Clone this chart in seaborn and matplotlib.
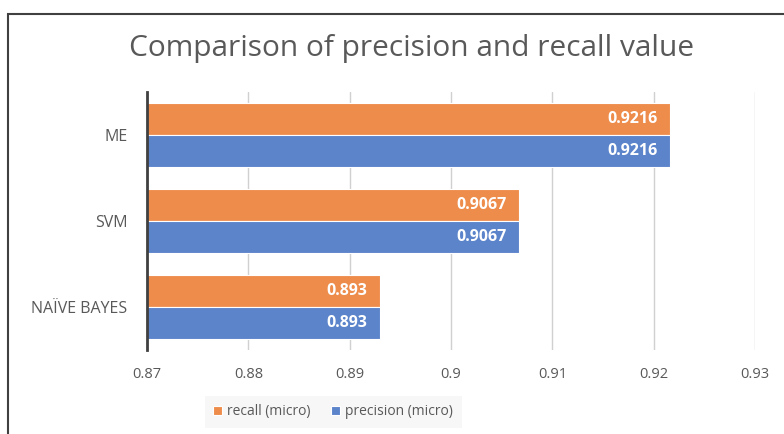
import matplotlib
matplotlib.use("Agg")
import matplotlib.pyplot as plt
import matplotlib.patches as mpatches
import seaborn as sns
import pandas as pd

# Scores per classifier
models = ["ME", "SVM", "NAÏVE BAYES"]
recall_micro = [0.9216, 0.9067, 0.893]
precision_micro = [0.9216, 0.9067, 0.893]
value_labels = ["0.9216", "0.9067", "0.893"]
series_names = ["recall (micro)", "precision (micro)"]
x_ticks = [0.87, 0.88, 0.89, 0.90, 0.91, 0.92, 0.93]
x_tick_labels = ["0.87", "0.88", "0.89", "0.9", "0.91", "0.92", "0.93"]

df = pd.DataFrame({
    "model": models * 2,
    "metric": [series_names[0]] * len(models) + [series_names[1]] * len(models),
    "score": recall_micro + precision_micro,
    "label": value_labels * 2,
})

sns.set_theme(style="white")
plt.rcParams["font.family"] = ["Open Sans", "DejaVu Sans"]

TEXT = "#595959"
GRID = "#D0D0D0"
palette = {series_names[0]: "#EE8C4C", series_names[1]: "#5B84CB"}

fig = plt.figure(figsize=(7.84, 4.34), dpi=100)
ax = fig.add_axes([0.1875, 0.1935, 0.7755, 0.5945])

sns.barplot(data=df, y="model", x="score", hue="metric", order=models,
            hue_order=series_names, palette=palette, orient="h",
            width=0.75, edgecolor="white", linewidth=0.8, saturation=1,
            ax=ax, legend=True, zorder=3)

ax.set_xlim(x_ticks[0], x_ticks[-1])
ax.set_xticks(x_ticks)
ax.set_xticklabels(x_tick_labels)
ax.set_xlabel("")
ax.set_ylabel("")
ax.xaxis.grid(True, color=GRID, linewidth=1.0, zorder=0)
ax.set_axisbelow(True)
for side in ["top", "right", "bottom"]:
    ax.spines[side].set_visible(False)
ax.spines["left"].set_color("#404040")
ax.spines["left"].set_linewidth(2.0)
ax.spines["left"].set_zorder(5)

ax.tick_params(axis="x", colors=GRID, length=6, width=1.0, direction="out",
               labelcolor=TEXT, labelsize=10.5, pad=6)
ax.tick_params(axis="y", length=0, labelcolor=TEXT, labelsize=11.5, pad=14)
ax.xaxis.get_major_ticks()[0].tick1line.set_color("#404040")
ax.xaxis.get_major_ticks()[0].tick1line.set_markeredgewidth(2.0)

# White value labels inside the end of each bar
for container, name in zip(ax.containers, series_names):
    labels = df[df["metric"] == name]["label"].tolist()
    texts = ax.bar_label(container, labels=labels, label_type="edge", padding=-9,
                         color="white", fontweight="bold", fontsize=11.5)
    for t in texts:
        t.set_ha("right")

fig.text(0.525, 0.888, "Comparison of precision and recall value",
         ha="center", va="center", fontsize=21.5, color=TEXT)

handles, lbls = ax.get_legend_handles_labels()
ax.get_legend().remove()
leg = fig.legend(handles, lbls, loc="center", bbox_to_anchor=(0.425, 0.051),
                 ncol=2, frameon=True, fontsize=10, handlelength=0.6,
                 handleheight=0.6, handletextpad=0.4, columnspacing=1.5,
                 borderpad=0.6, labelcolor=TEXT)
leg.get_frame().set_facecolor("#F6F6F6")
leg.get_frame().set_edgecolor("none")
leg.get_frame().set_boxstyle("square", pad=0.0)

# Outer chart border (runs off the right and bottom edges)
fig.patches.append(mpatches.Rectangle((8 / 784, -0.05), 1.2, (434 - 14) / 434 + 0.05,
                                      transform=fig.transFigure, fill=False,
                                      edgecolor="#404040", linewidth=1.5))

fig.savefig("out.png", dpi=100)
